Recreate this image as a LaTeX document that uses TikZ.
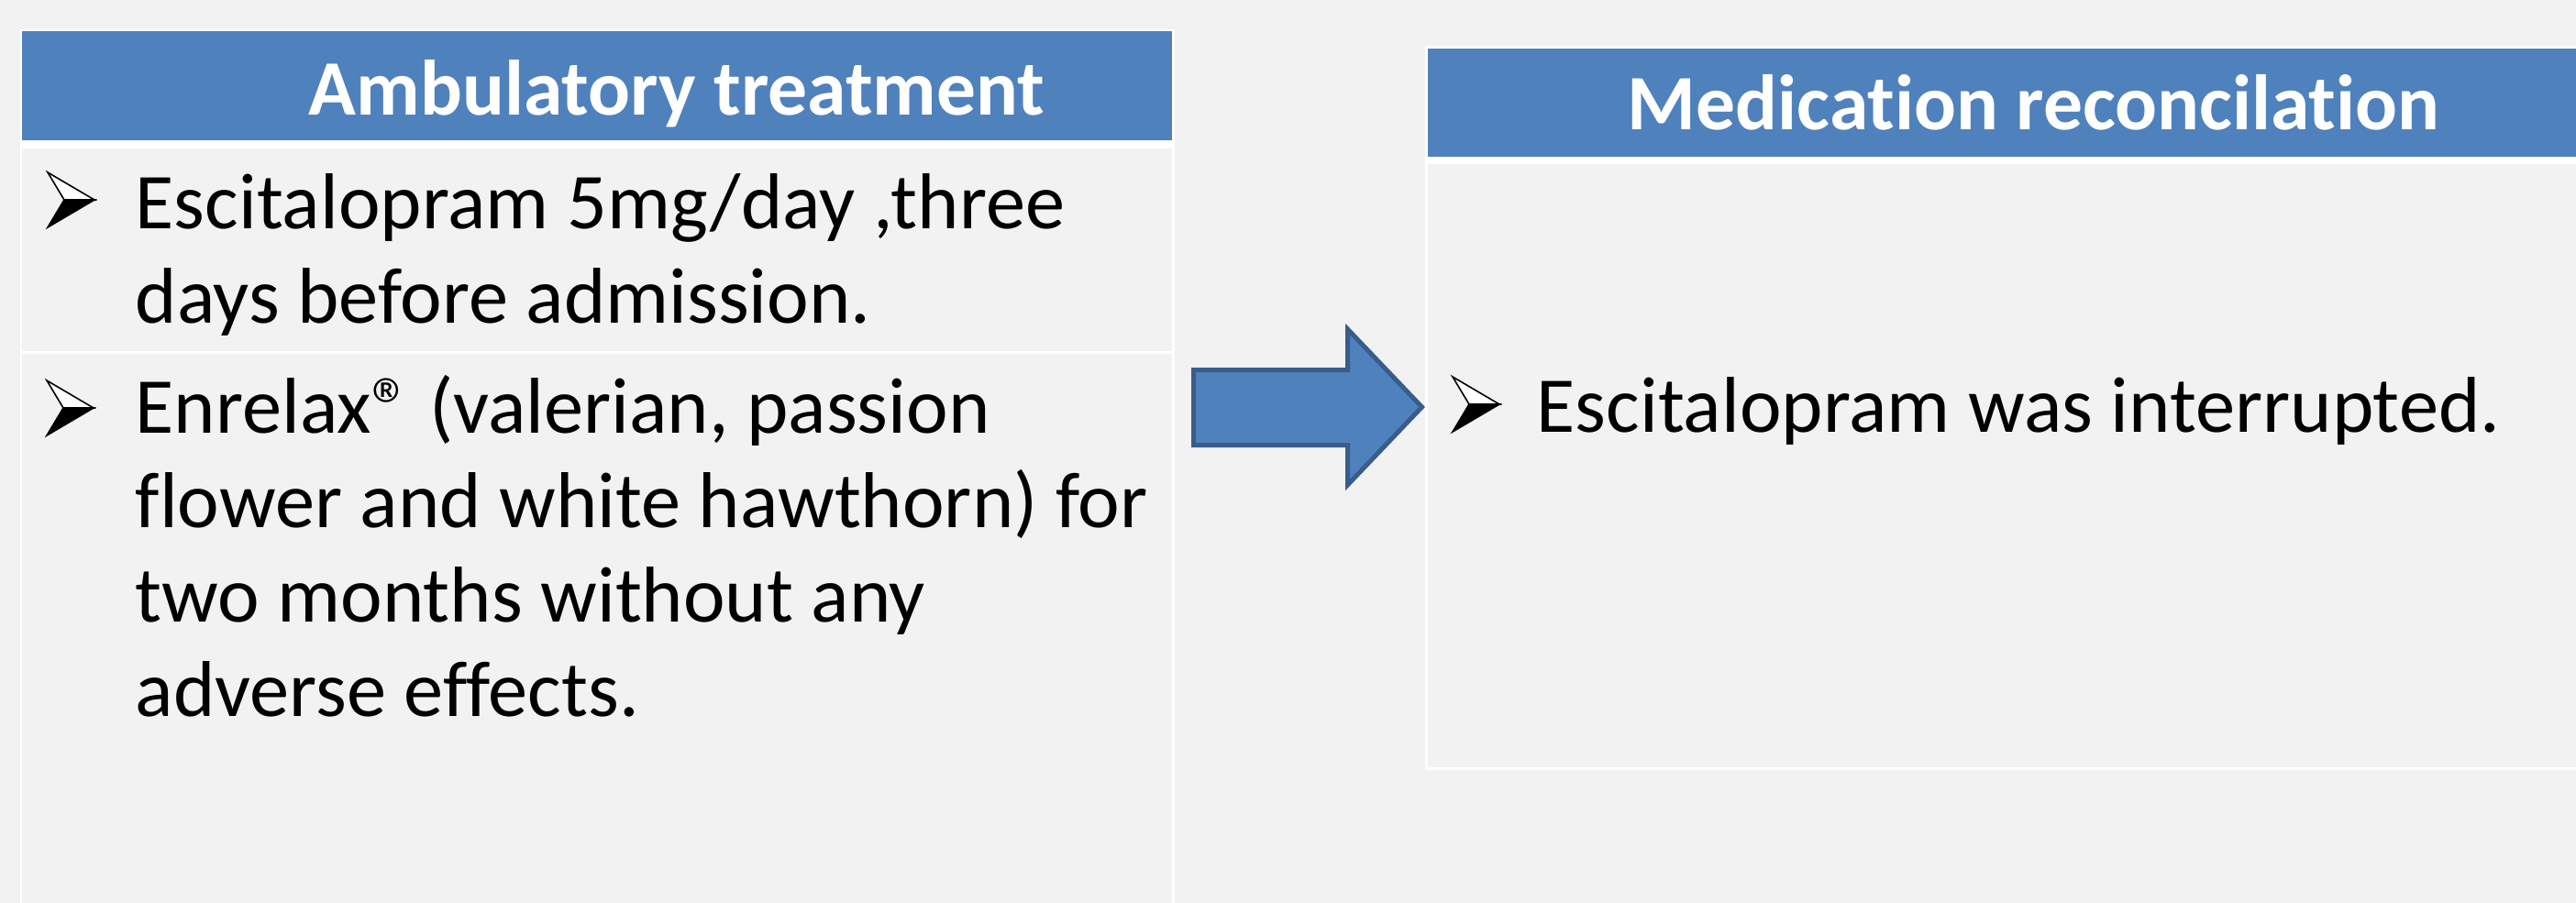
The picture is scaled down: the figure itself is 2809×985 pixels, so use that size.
\documentclass[tikz,border=0pt]{standalone}
\usepackage{fontspec}
\setmainfont{Carlito}[Ligatures=NoCommon]

\definecolor{slidebg}{HTML}{F2F2F2}
\definecolor{headblue}{HTML}{4F81BD}
\definecolor{arrowedge}{HTML}{385D8A}

\tikzset{
  headtext/.style={anchor=base west, inner sep=0pt, text=white,
    font=\fontsize{21.4}{26}\selectfont\bfseries},
  bodytext/.style={anchor=base west, inner sep=0pt, align=left,
    font=\fontsize{21.6}{25.75}\selectfont},
  pics/bullet/.style={code={
    \filldraw[fill=white, draw=black, line width=0.4pt] (0,0) -- (51,30) -- (18,30) -- cycle;
    \filldraw[black, line width=0.4pt] (18,30) -- (51,30) -- (0,60) -- cycle;
  }}
}

\begin{document}
\begin{tikzpicture}[x=0.25pt, y=-0.25pt]
  \fill[slidebg] (0,0) rectangle (2809,985);
  \useasboundingbox (0,0) rectangle (2809,985);

  % left table
  \fill[white] (22,32) rectangle (1281,985);
  \fill[headblue] (24,34) rectangle (1278,153);
  \fill[slidebg] (24,162) rectangle (1278,383);
  \fill[slidebg] (24,386) rectangle (1278,985);

  % right table
  \fill[white] (1554,50) rectangle (2809,840);
  \fill[headblue] (1557,53) rectangle (2809,171);
  \fill[slidebg] (1557,179) rectangle (2809,837);

  \node[headtext] (ambtitle) at (336,125) {Ambulatory treatment};
  \node[headtext] (medtitle) at (1774,141) {Medication reconcilation};

  % bullets (anchor is the last line)
  \pic at (52,188) {bullet};
  \node[bodytext] (escit) at (147,352) {Escitalopram 5mg/day ,three\\days before admission.};

  \pic at (51,415) {bullet};
  \node[bodytext] (enrelax) at (147,781) {Enrelax® (valerian, passion\\flower and white hawthorn) for\\two months without any\\adverse effects.};

  \pic at (1584,411) {bullet};
  \node[bodytext] (stopped) at (1675,471) {Escitalopram was interrupted.};

  % block arrow
  \filldraw[fill=headblue, draw=arrowedge, line width=1.25pt]
    (1301.5,403.5) -- (1469.5,403.5) -- (1469.5,359) -- (1550.5,444)
    -- (1469.5,529) -- (1469.5,485.5) -- (1301.5,485.5) -- cycle;
\end{tikzpicture}
\end{document}
